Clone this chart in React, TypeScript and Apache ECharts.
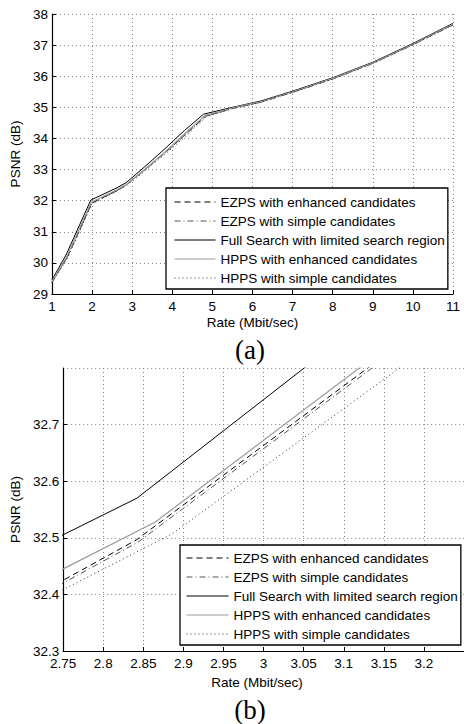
import React, { useEffect, useRef } from "react";
import * as echarts from "echarts";

const FONT = "'Liberation Sans', Arial, Helvetica, sans-serif";
const SERIF = "'Liberation Serif', 'Times New Roman', serif";

const SERIES_NAMES = [
  "EZPS with enhanced candidates",
  "EZPS with simple candidates",
  "Full Search with limited search region",
  "HPPS with enhanced candidates",
  "HPPS with simple candidates",
];

// Rate (Mbit/sec) and PSNR (dB) per method
const EZPS_ENH_RATE = [1.0, 1.38, 1.99, 2.6, 2.841, 3.42, 3.87, 4.37, 4.83, 5.5, 6.2, 7.0, 8.0, 9.0, 10.0, 11.0];
const EZPS_ENH_PSNR = [29.38, 30.18, 31.92, 32.308, 32.496, 33.105, 33.6, 34.18, 34.72, 34.97, 35.17, 35.49, 35.92, 36.42, 37.02, 37.66];

const EZPS_SIM_RATE = [1.0, 1.38, 1.99, 2.6, 2.843, 3.42, 3.87, 4.37, 4.83, 5.5, 6.2, 7.0, 8.0, 9.0, 10.0, 11.0];
const EZPS_SIM_PSNR = [29.37, 30.17, 31.91, 32.304, 32.492, 33.1, 33.59, 34.17, 34.71, 34.96, 35.16, 35.48, 35.91, 36.41, 37.01, 37.65];

const FS_RATE = [1.0, 1.35, 1.97, 2.6, 2.842, 3.35, 3.8, 4.3, 4.78, 5.5, 6.2, 7.0, 8.0, 9.0, 10.0, 11.0];
const FS_PSNR = [29.45, 30.25, 32.02, 32.4, 32.57, 33.13, 33.65, 34.25, 34.78, 35.0, 35.2, 35.52, 35.95, 36.45, 37.05, 37.7];

const HPPS_ENH_RATE = [1.0, 1.37, 1.98, 2.6, 2.865, 3.4, 3.85, 4.35, 4.82, 5.5, 6.2, 7.0, 8.0, 9.0, 10.0, 11.0];
const HPPS_ENH_PSNR = [29.4, 30.2, 31.95, 32.337, 32.528, 33.1, 33.6, 34.2, 34.74, 34.98, 35.18, 35.5, 35.93, 36.43, 37.03, 37.68];

const HPPS_SIM_RATE = [1.0, 1.39, 2.0, 2.6, 2.886, 3.45, 3.9, 4.4, 4.85, 5.5, 6.2, 7.0, 8.0, 9.0, 10.0, 11.0];
const HPPS_SIM_PSNR = [29.36, 30.15, 31.9, 32.3, 32.507, 33.09, 33.58, 34.15, 34.7, 34.96, 35.16, 35.48, 35.91, 36.41, 37.01, 37.65];

const RATES = [EZPS_ENH_RATE, EZPS_SIM_RATE, FS_RATE, HPPS_ENH_RATE, HPPS_SIM_RATE];
const PSNRS = [EZPS_ENH_PSNR, EZPS_SIM_PSNR, FS_PSNR, HPPS_ENH_PSNR, HPPS_SIM_PSNR];

const STYLES = [
  { color: "#000000", type: [6, 4], width: 1 },
  { color: "#555555", type: [6, 3, 1, 3], width: 1 },
  { color: "#000000", type: "solid", width: 1 },
  { color: "#9a9a9a", type: "solid", width: 1.2 },
  { color: "#333333", type: [1, 3], width: 1 },
];

const zip = (xs: number[], ys: number[]) => xs.map((x, i) => [x, ys[i]]);

const gridLine = { show: true, lineStyle: { type: [1, 3], color: "#808080", width: 1 } };

function makeAxis(opts: any, isX: boolean) {
  return {
    type: "value",
    axisLine: { show: true, onZero: false, lineStyle: { color: "#000", width: 1.2 } },
    axisTick: { show: true, inside: true, length: 4, lineStyle: { color: "#000" } },
    splitLine: gridLine,
    nameLocation: "middle",
    nameTextStyle: { fontFamily: FONT, fontSize: 13.5, color: "#000" },
    axisLabel: {
      fontFamily: FONT,
      fontSize: 13.5,
      color: "#000",
      margin: isX ? 5 : 4,
    },
    ...opts,
  };
}

export default function App() {
  const ref = useRef<HTMLDivElement>(null);
  useEffect(() => {
    if (!ref.current) return;
    const chart = echarts.init(ref.current, undefined, { renderer: "svg" });

    const series: any[] = [];
    [0, 1].forEach((g) => {
      SERIES_NAMES.forEach((name, i) => {
        series.push({
          type: "line",
          name,
          xAxisIndex: g,
          yAxisIndex: g,
          data: zip(RATES[i], PSNRS[i]),
          symbol: "none",
          clip: true,
          lineStyle: { color: STYLES[i].color, type: STYLES[i].type, width: STYLES[i].width },
          itemStyle: { color: STYLES[i].color },
          z: 2,
        });
      });
    });

    const legendCommon = {
      orient: "vertical",
      itemHeight: 14,
      itemGap: 5,
      borderColor: "#000",
      borderWidth: 1.3,
      backgroundColor: "#fff",
      selectedMode: false,
      itemStyle: { opacity: 0 },
      lineStyle: { width: 1 },
      textStyle: { fontFamily: FONT, fontSize: 13.5, color: "#000", lineHeight: 14 },
      data: SERIES_NAMES,
    };

    chart.setOption({
      animation: false,
      backgroundColor: "#fff",
      grid: [
        { left: 49, top: 14, width: 404, height: 280 },
        { left: 60, top: 368, width: 409, height: 283 },
      ],
      xAxis: [
        makeAxis(
          {
            gridIndex: 0,
            min: 1,
            max: 11,
            interval: 1,
            name: "Rate (Mbit/sec)",
            nameGap: 21,
          },
          true
        ),
        makeAxis(
          {
            gridIndex: 1,
            min: 2.75,
            max: 3.25,
            interval: 0.05,
            name: "Rate (Mbit/sec)",
            nameGap: 24,
            nameTextStyle: { fontFamily: FONT, fontSize: 13.5, color: "#000", padding: [0, 13, 0, 0] },
            axisLabel: {
              fontFamily: FONT,
              fontSize: 13.5,
              color: "#000",
              margin: 5,
              showMaxLabel: false,
              formatter: (v: number) => String(+v.toFixed(2)),
            },
          },
          true
        ),
      ],
      yAxis: [
        makeAxis(
          {
            gridIndex: 0,
            min: 29,
            max: 38,
            interval: 1,
            name: "PSNR (dB)",
            nameGap: 26,
          },
          false
        ),
        makeAxis(
          {
            gridIndex: 1,
            min: 32.3,
            max: 32.8,
            interval: 0.1,
            name: "PSNR (dB)",
            nameGap: 37,
            axisLabel: {
              fontFamily: FONT,
              fontSize: 13.5,
              color: "#000",
              margin: 4,
              showMaxLabel: false,
              formatter: (v: number) => v.toFixed(1),
            },
          },
          false
        ),
      ],
      legend: [
        { ...legendCommon, left: 166, top: 188, itemWidth: 41, padding: [7, 3, 4, 8] },
        { ...legendCommon, left: 180, top: 545, itemWidth: 42, padding: [6, 3, 4, 6] },
      ],
      graphic: [
        {
          type: "text",
          x: 250,
          y: 350,
          style: { text: "(a)", fontFamily: SERIF, fontSize: 27, fill: "#000", align: "center", verticalAlign: "middle" },
        },
        {
          type: "text",
          x: 250,
          y: 710,
          style: { text: "(b)", fontFamily: SERIF, fontSize: 27, fill: "#000", align: "center", verticalAlign: "middle" },
        },
      ],
      series,
    });
    return () => chart.dispose();
  }, []);
  return (
    <div
      ref={ref}
      style={{ position: "absolute", left: 0, top: 0, width: 464, height: 724 }}
    />
  );
}
